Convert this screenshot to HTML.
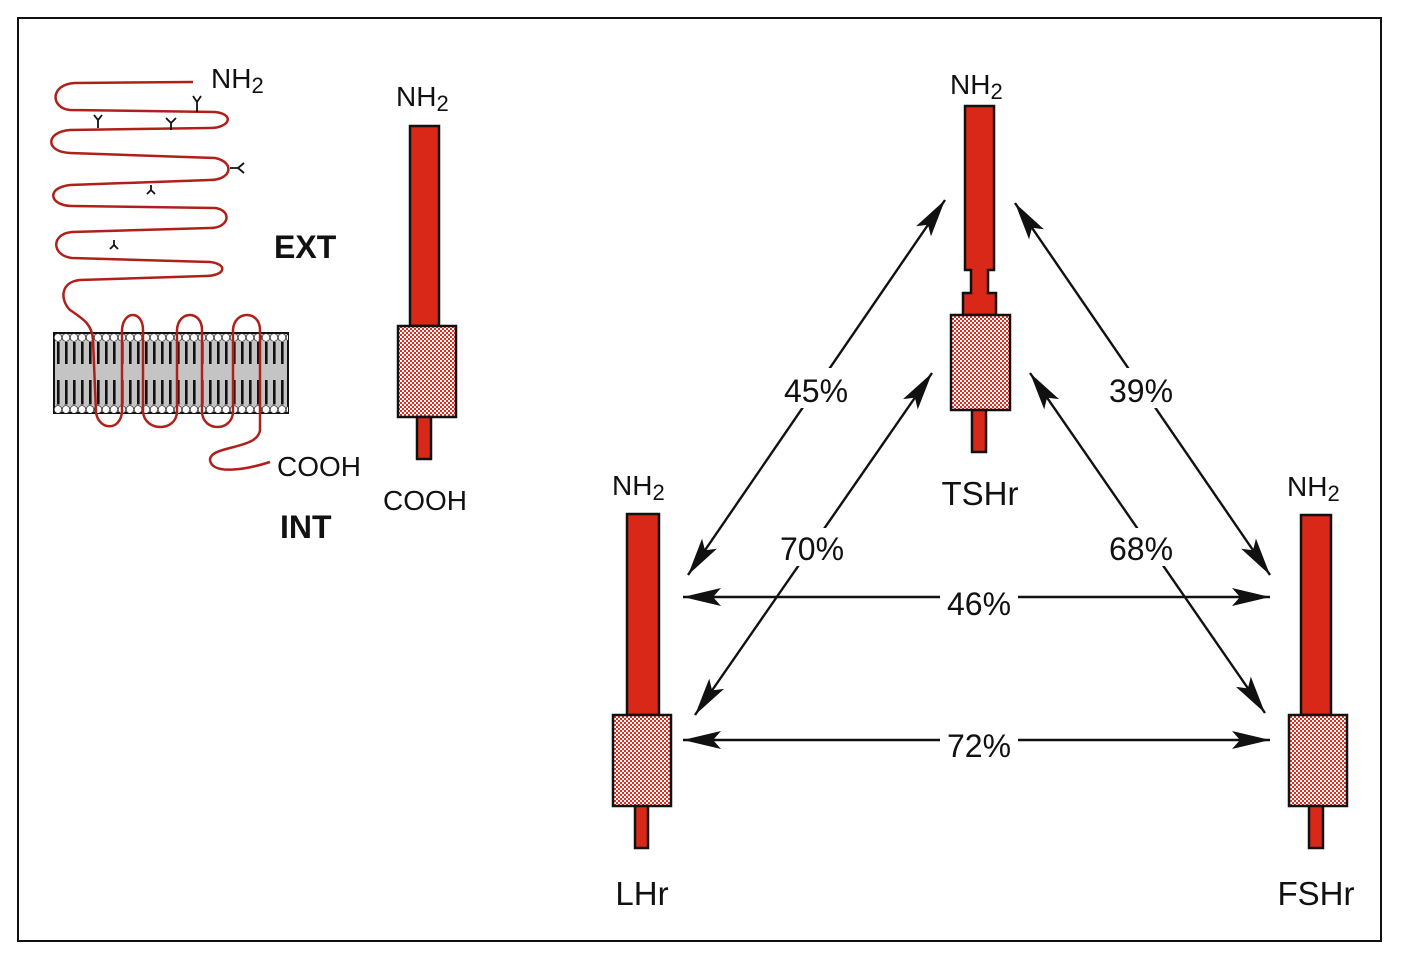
<!DOCTYPE html>
<html><head><meta charset="utf-8"><style>
html,body{margin:0;padding:0;background:#fff;}
svg{display:block;}
text{font-family:"Liberation Sans",Arial,sans-serif;fill:#111;}
</style></head><body>
<svg width="1404" height="960" viewBox="0 0 1404 960" xmlns="http://www.w3.org/2000/svg">
<defs>
<pattern id="chk" width="4" height="4" patternUnits="userSpaceOnUse">
<rect width="4" height="4" fill="#e52b1c"/>
<rect x="0" y="0" width="2" height="2" fill="#fff"/>
<rect x="2" y="2" width="2" height="2" fill="#fff"/>
</pattern>
<pattern id="heads" width="8" height="9" patternUnits="userSpaceOnUse" x="54" y="333">
<circle cx="4" cy="4.5" r="3.8" fill="#fff" stroke="#222" stroke-width="0.7"/>
</pattern>
<pattern id="tails" width="8" height="80" patternUnits="userSpaceOnUse" x="54" y="333">
<rect x="3" y="9" width="2.6" height="22" fill="#111"/>
<rect x="3" y="47" width="2.6" height="24" fill="#111"/>
</pattern>
<marker id="ah" markerWidth="40" markerHeight="20" refX="38" refY="10" orient="auto-start-reverse" markerUnits="userSpaceOnUse">
<path d="M0,1 L38,10 L0,19 L8,10 Z" fill="#111"/>
</marker>
</defs>
<rect x="18" y="18" width="1363" height="923" fill="#fff" stroke="#111" stroke-width="2"/>

<!-- membrane -->
<rect x="54" y="333" width="234" height="80" fill="#c4c4c4" stroke="#111" stroke-width="2"/>
<rect x="54" y="334" width="234" height="79" fill="url(#tails)"/>
<rect x="54" y="333" width="234" height="9" fill="url(#heads)"/>
<rect x="54" y="404" width="234" height="9" fill="url(#heads)"/>

<!-- snake -->
<path d="M193,82 L75,83 C50,84 50,108 70,110 L215,112 C235,114 230,128 210,128 L70,130 C45,132 45,152 70,153 L215,158 C235,162 232,180 210,180 L70,185 C45,188 50,206 72,206 L215,208 C232,210 230,228 210,228 L72,232 C50,234 52,256 72,258 L210,262 C228,264 226,276 205,276 L80,280 C60,282 60,300 70,310 C85,320 92,325 93,340 L96,412 C98,430 120,432 122,412 L122,330 C123,310 143,310 143,330 L143,412 C145,432 176,432 177,412 L177,330 C178,310 202,310 202,330 L202,412 C203,432 232,432 233,412 L233,330 C234,310 260,310 260,330 L260,430 C258,450 210,445 210,460 C212,475 245,470 270,462" fill="none" stroke="#b0201a" stroke-width="2.5"/>
<g stroke="#111" stroke-width="1.8" fill="none">
<path d="M197,112 L197,102 M193,96 L197,102 L201,96"/>
<path d="M98,128 L98,120 M94,115 L98,120 L102,115"/>
<path d="M171,130 L171,122 M166,118 L171,123 L176,118"/>
<path d="M230,168 L238,168 M244,163 L238,168 L244,173"/>
<path d="M151,185 L151,190 M147,194 L151,190 L155,194"/>
<path d="M114,240 L114,245 M110,249 L114,245 L118,249"/>
</g>
<text x="211" y="88" font-size="28">NH<tspan font-size="22" dy="5">2</tspan></text>
<text x="277" y="476" font-size="28">COOH</text>
<text x="274" y="258" font-size="32" font-weight="bold">EXT</text>
<text x="280" y="538" font-size="32" font-weight="bold">INT</text>

<!-- simple receptor -->
<text x="396" y="106" font-size="28">NH<tspan font-size="22" dy="5">2</tspan></text>
<rect x="410" y="126" width="29" height="200" fill="#d92818" stroke="#111" stroke-width="2.5"/>
<rect x="398" y="326" width="58" height="91" fill="url(#chk)" stroke="#111" stroke-width="2.5"/>
<rect x="417" y="417" width="14" height="42" fill="#d92818" stroke="#111" stroke-width="2.5"/>
<text x="383" y="510" font-size="28">COOH</text>

<!-- TSHr -->
<text x="950" y="94" font-size="28">NH<tspan font-size="22" dy="5">2</tspan></text>
<path d="M965,106 H994 V270 H988 V293 H996 V315 H963 V293 H971 V270 H965 Z" fill="#d92818" stroke="#111" stroke-width="2.5"/>
<rect x="951" y="315" width="59" height="95" fill="url(#chk)" stroke="#111" stroke-width="2.5"/>
<rect x="972" y="410" width="14" height="42" fill="#d92818" stroke="#111" stroke-width="2.5"/>
<text x="980" y="505" font-size="33" text-anchor="middle">TSHr</text>

<!-- LHr -->
<text x="612" y="495" font-size="28">NH<tspan font-size="22" dy="5">2</tspan></text>
<rect x="627" y="514" width="32" height="201" fill="#d92818" stroke="#111" stroke-width="2.5"/>
<rect x="613" y="715" width="58" height="91" fill="url(#chk)" stroke="#111" stroke-width="2.5"/>
<rect x="635" y="806" width="13" height="42" fill="#d92818" stroke="#111" stroke-width="2.5"/>
<text x="642" y="905" font-size="33" text-anchor="middle">LHr</text>

<!-- FSHr -->
<text x="1287" y="496" font-size="28">NH<tspan font-size="22" dy="5">2</tspan></text>
<rect x="1301" y="515" width="30" height="200" fill="#d92818" stroke="#111" stroke-width="2.5"/>
<rect x="1289" y="715" width="58" height="91" fill="url(#chk)" stroke="#111" stroke-width="2.5"/>
<rect x="1309" y="806" width="14" height="42" fill="#d92818" stroke="#111" stroke-width="2.5"/>
<text x="1316" y="905" font-size="33" text-anchor="middle">FSHr</text>

<!-- arrows -->
<g stroke="#111" stroke-width="2.4" fill="none">
<line x1="945" y1="200" x2="688" y2="575" marker-start="url(#ah)" marker-end="url(#ah)"/>
<line x1="1015" y1="203" x2="1270" y2="575" marker-start="url(#ah)" marker-end="url(#ah)"/>
<line x1="932" y1="373" x2="695" y2="715" marker-start="url(#ah)" marker-end="url(#ah)"/>
<line x1="1030" y1="373" x2="1265" y2="713" marker-start="url(#ah)" marker-end="url(#ah)"/>
<line x1="683" y1="597" x2="1270" y2="597" marker-start="url(#ah)" marker-end="url(#ah)"/>
<line x1="683" y1="740" x2="1270" y2="740" marker-start="url(#ah)" marker-end="url(#ah)"/>
</g>
<g fill="#fff">
<rect x="778" y="368" width="76" height="40"/>
<rect x="1102" y="368" width="76" height="40"/>
<rect x="774" y="528" width="76" height="38"/>
<rect x="1102" y="528" width="76" height="38"/>
<rect x="940" y="584" width="78" height="30"/>
<rect x="940" y="727" width="78" height="30"/>
</g>
<g font-size="32" text-anchor="middle">
<text x="816" y="402">45%</text>
<text x="1141" y="402">39%</text>
<text x="812" y="560">70%</text>
<text x="1141" y="560">68%</text>
<text x="979" y="615">46%</text>
<text x="979" y="757">72%</text>
</g>
</svg>
</body></html>
